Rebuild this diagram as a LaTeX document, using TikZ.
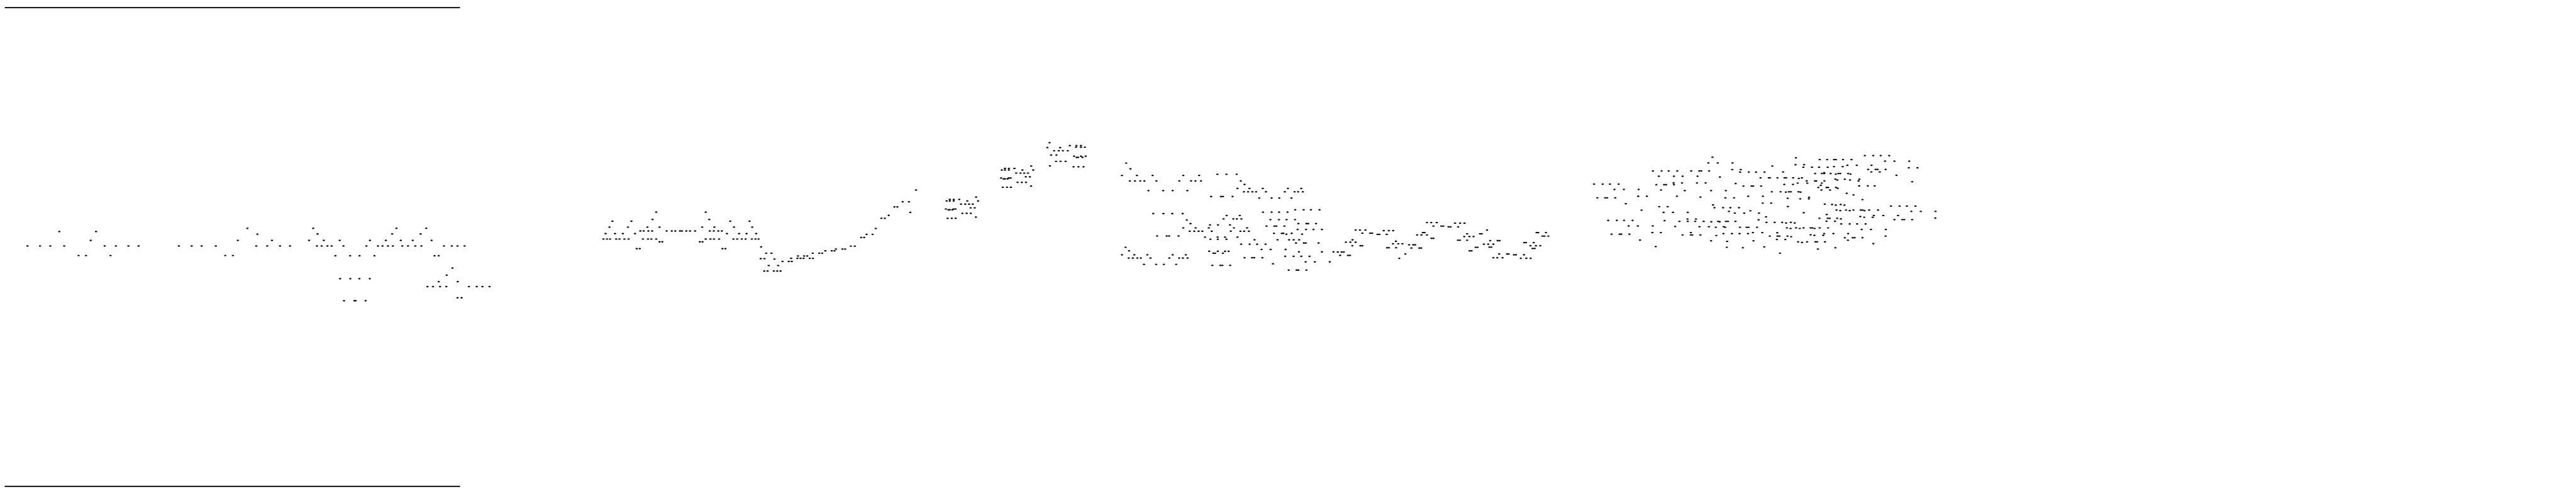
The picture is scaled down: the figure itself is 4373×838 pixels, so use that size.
\documentclass[tikz,border=0pt]{standalone}
\tikzset{
	speck/.style={fill=black},
	zoomed/.style={x=0.033333mm,y=-0.033333mm},
	rule/.style={draw=black,line width=0.2mm}
}
\newcommand{\speckrow}[2]{\foreach \px in {#2} \fill[speck] (\px,#1) ellipse [x radius=0.2mm, y radius=0.125mm];}
\newcommand{\clumpA}{
	\speckrow{314}{291}
	\speckrow{326}{205,157,177}
	\speckrow{334}{141,157,177,246,301}
	\speckrow{350}{214,236,255,274}
	\speckrow{369}{263,284}
	\speckrow{375}{137,176,186}
	\speckrow{379}{150,157,170}
	\speckrow{397}{221,243,264}
	\speckrow{416}{290}
	\speckrow{422}{146,167,187}
}
\begin{document}
\begin{tikzpicture}[x=0.1mm,y=-0.1mm]
	\useasboundingbox (0,0) rectangle (4373,838);
	% top and bottom rules
	\coordinate (topL) at (8,13);
	\coordinate (topR) at (781,13);
	\coordinate (botL) at (8,826);
	\coordinate (botR) at (781,826);
	\draw[rule] (topL) -- (topR);
	\draw[rule] (botL) -- (botR);
	% first tree
	\begin{scope}[shift={(0,340)},zoomed]
		\speckrow{143}{1260}
		\speckrow{160}{302,489}
		\speckrow{173}{1311}
		\speckrow{205}{462,1211}
		\speckrow{233}{140,204,256,327,533,590,654,706,911,976,1027,1099,1305}
		\speckrow{282}{400,438,563,1147,1186}
	\end{scope}
	\begin{scope}[shift={(450,340)},zoomed]
		\speckrow{143}{245,669,821}
		\speckrow{172}{267,647,792}
		\speckrow{205}{35,224,299,380,534,615,691,752,848}
		\speckrow{233}{11,76,127,264,288,317,339,399,516,575,598,626,651,699,728,765,796,911,951,980,1016}
		\speckrow{283}{358,433,481,557,863,884}
		\speckrow{346}{954}
		\speckrow{382}{925}
		\speckrow{400}{382,434,480,533}
		\speckrow{415}{884,981}
		\speckrow{440}{827,855,891,923,1038,1078,1107,1143}
		\speckrow{497}{980,1001}
		\speckrow{512}{402,455,461,512}
	\end{scope}
	% second tree
	\begin{scope}[shift={(1010,340)},zoomed]
		\speckrow{61}{312,564}
		\speckrow{98}{293,582}
		\speckrow{107}{89,186,689,787}
		\speckrow{137}{74,168,267,329,546,608,708,801}
		\speckrow{157}{231,248,272,291,365,391,409,433,443,465,484,510,585,605,628,646}
		\speckrow{170}{54,102,142,204,672,734,772,821}
		\speckrow{198}{43,61,77,108,125,150,171,244,270,287,312,564,588,606,632,705,724,748,767,799,817,833}
		\speckrow{212}{329,343,534,548}
		\speckrow{247}{213,228,649,664}
	\end{scope}
	\begin{scope}[shift={(1270,330)},zoomed]
		\speckrow{-22}{855}
		\speckrow{38}{787,819}
		\speckrow{64}{745,760}
		\speckrow{92}{826}
		\speckrow{107}{716}
		\speckrow{122}{679,696}
		\speckrow{174}{650}
		\speckrow{204}{603,634}
		\speckrow{220}{576,591}
		\speckrow{264}{523,543}
		\speckrow{268}{66}
		\speckrow{279}{447,480,494}
		\speckrow{288}{393,426,440}
		\speckrow{300}{92,119,329,362,377}
		\speckrow{314}{254,285,301}
		\speckrow{326}{219,251,267,282,314,330}
		\speckrow{328}{64,83}
		\speckrow{330}{134}
		\speckrow{342}{175,207,222}
		\speckrow{363}{105,153}
		\speckrow{391}{82,99,131,148,165}
	\end{scope}
	\begin{scope}[shift={(1560,230)},zoomed]
		\clumpA
		\begin{scope}[shift={(281,-158)}]
			\clumpA
		\end{scope}
		\speckrow{37}{665}
		\speckrow{52}{768,802,825}
		\speckrow{60}{800,825,845}
		\speckrow{62}{654,719}
		\speckrow{78}{688,712,733,758}
		\speckrow{100}{673,700}
		\speckrow{106}{790,825,849}
		\speckrow{112}{803,810,833}
		\speckrow{132}{698,721,747}
		\speckrow{155}{667}
		\speckrow{160}{787,812,838}
	\end{scope}
	% third tree
	\begin{scope}[shift={(1890,270)},zoomed]
		\speckrow{21}{65}
		\speckrow{50}{87}
		\speckrow{78}{530,576,628}
		\speckrow{84}{44,120,200,356,437}
		\speckrow{112}{84,110,137,158,219,336,396,418,446,649}
		\speckrow{130}{668}
		\speckrow{150}{632,693,761,889,957}
		\speckrow{161}{179,254,302,377}
		\speckrow{167}{665,686,708,727,777,873,923,941,965}
		\speckrow{191}{498,548,558,607}
		\speckrow{199}{743,806,845,907}
		\speckrow{259}{926,969,1006,1050}
		\speckrow{271}{762,806,844,887}
		\speckrow{278}{203,255,300,353}
		\speckrow{288}{577,644}
		\speckrow{305}{561,611,629,652}
		\speckrow{309}{800,843,882,925}
		\speckrow{311}{374}
		\speckrow{329}{393,942,983,992,1032}
		\speckrow{336}{492,533,594}
		\speckrow{342}{780,820,830,871}
		\speckrow{351}{356,419,486,614,681}
		\speckrow{359}{938,981,1019,1062}
		\speckrow{368}{389,412,434,453,501,598,647,666,690}
		\speckrow{379}{818,858,866,908}
		\speckrow{383}{881,961}
		\speckrow{392}{223,272,284,332}
		\speckrow{398}{467,531,569,632}
		\speckrow{409}{494,532,576}
		\speckrow{412}{719,836,895,918,946}
		\speckrow{428}{930,970,980,1045}
		\speckrow{434}{651,694,732,775}
		\speckrow{450}{62}
		\speckrow{461}{755,801,877}
		\speckrow{468}{80}
		\speckrow{470}{488,532,569,587}
		\speckrow{473}{945,1062,1121}
		\speckrow{480}{510,518,558}
		\speckrow{488}{44,107,173,302,369}
		\speckrow{496}{875,918,957,999}
		\speckrow{503}{668,706,717,759}
		\speckrow{505}{78,99,122,140,189,285,335,354,378}
		\speckrow{524}{979,1026,1102}
		\speckrow{534}{813}
		\speckrow{537}{156,218,257,320}
		\speckrow{542}{504,545,555,595}
		\speckrow{566}{893,933,942,983}
	\end{scope}
	\begin{scope}[shift={(2270,370)},zoomed]
		\speckrow{24}{457,479,507}
		\speckrow{27}{600,626,648}
		\speckrow{42}{490,530,540}
		\speckrow{46}{567,577,616}
		\speckrow{62}{94,116,144,763}
		\speckrow{65}{237,263,285}
		\speckrow{75}{436,445,1015,1024,1063}
		\speckrow{78}{128,168,178}
		\speckrow{81}{662,727,736}
		\speckrow{84}{205,215,252}
		\speckrow{87}{407,429,457}
		\speckrow{93}{1045,1055,1075}
		\speckrow{95}{647,673,694}
		\speckrow{104}{480,490}
		\speckrow{112}{78}
		\speckrow{114}{615,625,662}
		\speckrow{116}{779,817,827}
		\speckrow{119}{299}
		\speckrow{124}{44,67,94}
		\speckrow{126}{952,961,1001}
		\speckrow{132}{284,311,332}
		\speckrow{134}{747,769,795}
		\speckrow{137}{366,387,397}
		\speckrow{142}{77,118,128,984,1012,1034}
		\speckrow{149}{775,785}
		\speckrow{150}{705,715}
		\speckrow{152}{254,263,300}
		\speckrow{154}{378,418,428}
		\speckrow{156}{995,1005}
		\speckrow{168}{674,684}
		\speckrow{174}{3,22,33}
		\speckrow{184}{347,825,865,873}
		\speckrow{188}{900,910,951}
		\speckrow{191}{15,55,65}
		\speckrow{203}{795,815,842}
		\speckrow{206}{316,935,963,985}
	\end{scope}
	% fourth tree
	\begin{scope}[shift={(2690,260)},zoomed]
		\speckrow{21}{651}
		\speckrow{50}{630,678,753}
		\speckrow{84}{752,795}
		\speckrow{91}{348,392,428,472,543,584,594,634}
		\speckrow{97}{792,836,873,916}
		\speckrow{118}{378,455,499,575}
		\speckrow{122}{689}
		\speckrow{126}{896}
		\speckrow{152}{453,496,572,616}
		\speckrow{155}{769}
		\speckrow{158}{48,92,129,173}
		\speckrow{161}{365,405,415,455}
		\speckrow{168}{809,850,858,899}
		\speckrow{185}{152,200,275}
		\speckrow{188}{389}
		\speckrow{191}{510,644,719}
		\speckrow{220}{273,317,470,833,908}
		\speckrow{224}{590}
		\speckrow{228}{65,105,115,156,717,761}
		\speckrow{255}{907}
		\speckrow{258}{210}
		\speckrow{264}{654}
		\speckrow{273}{380,423}
		\speckrow{278}{661,705,742,786}
		\speckrow{291}{290}
		\speckrow{294}{844}
		\speckrow{297}{735}
		\speckrow{302}{402,450,525}
		\speckrow{306}{765,813,888}
		\speckrow{325}{924}
		\speckrow{336}{524,567}
		\speckrow{340}{886}
		\speckrow{343}{120,164,201,244}
		\speckrow{344}{407}
		\speckrow{348}{483,525,563,606,680,720,730,768}
		\speckrow{350}{645,688}
		\speckrow{353}{926}
		\speckrow{371}{224,271,347}
		\speckrow{374}{461}
		\speckrow{375}{585,633,708}
		\speckrow{378}{668,716,791,825,835,878}
		\speckrow{405}{345,388,541,857,905}
		\speckrow{410}{707,750,789,832}
		\speckrow{413}{137,178,187,228}
		\speckrow{417}{499,541,548,590}
		\speckrow{420}{671}
		\speckrow{443}{282}
		\speckrow{447}{644,860}
		\speckrow{450}{726}
		\speckrow{476}{362}
		\speckrow{478}{915}
		\speckrow{480}{724}
		\speckrow{482}{806}
	\end{scope}
	\begin{scope}[shift={(3000,255)},zoomed]
		\speckrow{28}{497,540,578,621}
		\speckrow{39}{146}
		\speckrow{48}{267,305,340,350,386,429}
		\speckrow{56}{600,648,723}
		\speckrow{74}{144,188}
		\speckrow{77}{408,456,531}
		\speckrow{81}{26}
		\speckrow{84}{340,384}
		\speckrow{87}{184,228,264,308}
		\speckrow{90}{721,765}
		\speckrow{98}{514,552,562,603}
		\speckrow{111}{81,530,573}
		\speckrow{119}{244,278,290,323,362,372,412}
		\speckrow{115}{290}
		\speckrow{122}{349,424}
		\speckrow{128}{658}
		\speckrow{141}{8,14,52,88,96,132,177}
		\speckrow{144}{161}
		\speckrow{148}{347,395,469}
		\speckrow{152}{357,422}
		\speckrow{157}{201,243,250,291,465}
		\speckrow{161}{738}
		\speckrow{168}{155,204,278}
		\speckrow{175}{87,131}
		\speckrow{179}{273}
		\speckrow{182}{468,512,547}
		\speckrow{190}{260,302,310,350}
		\speckrow{194}{359}
		\speckrow{203}{276,320}
		\speckrow{212}{23,68,159,110,120}
		\speckrow{214}{95,170}
		\speckrow{220}{405}
		\speckrow{228}{439}
		\speckrow{240}{213}
		\speckrow{245}{104}
		\speckrow{248}{168,212}
		\speckrow{252}{485}
		\speckrow{270}{20}
		\speckrow{275}{293}
		\speckrow{277}{330,374}
		\speckrow{280}{349,393}
		\speckrow{285}{630,674,711,755}
		\speckrow{287}{105}
		\speckrow{305}{353,401,439,476,485,519,564}
		\speckrow{308}{372,420,495}
		\speckrow{312}{734,782,857}
		\speckrow{319}{186}
		\speckrow{328}{303}
		\speckrow{333}{543,591,666}
		\speckrow{338}{474}
		\speckrow{342}{494,537}
		\speckrow{346}{856}
		\speckrow{347}{266,308,318,356}
		\speckrow{350}{375}
		\speckrow{354}{648,688,698,738}
		\speckrow{362}{302,345}
		\speckrow{368}{38,76,120}
		\speckrow{371}{96,140}
		\speckrow{376}{377,420,458,501}
		\speckrow{396}{100,147,185,221,230,267,310}
		\speckrow{399}{119,166,241}
		\speckrow{404}{481,528,604}
		\speckrow{421}{51}
		\speckrow{425}{290,337,412}
		\speckrow{431}{221}
		\speckrow{434}{240,285}
		\speckrow{438}{13,52,62,103,603}
		\speckrow{441}{122}
		\speckrow{446}{395,435,445,485}
		\speckrow{455}{49,92}
		\speckrow{459}{411}
		\speckrow{467}{157,203,245,254,294}
		\speckrow{470}{177}
		\speckrow{476}{540}
		\speckrow{497}{347}
		\speckrow{504}{258}
		\speckrow{525}{65}
	\end{scope}
\end{tikzpicture}
\end{document}
